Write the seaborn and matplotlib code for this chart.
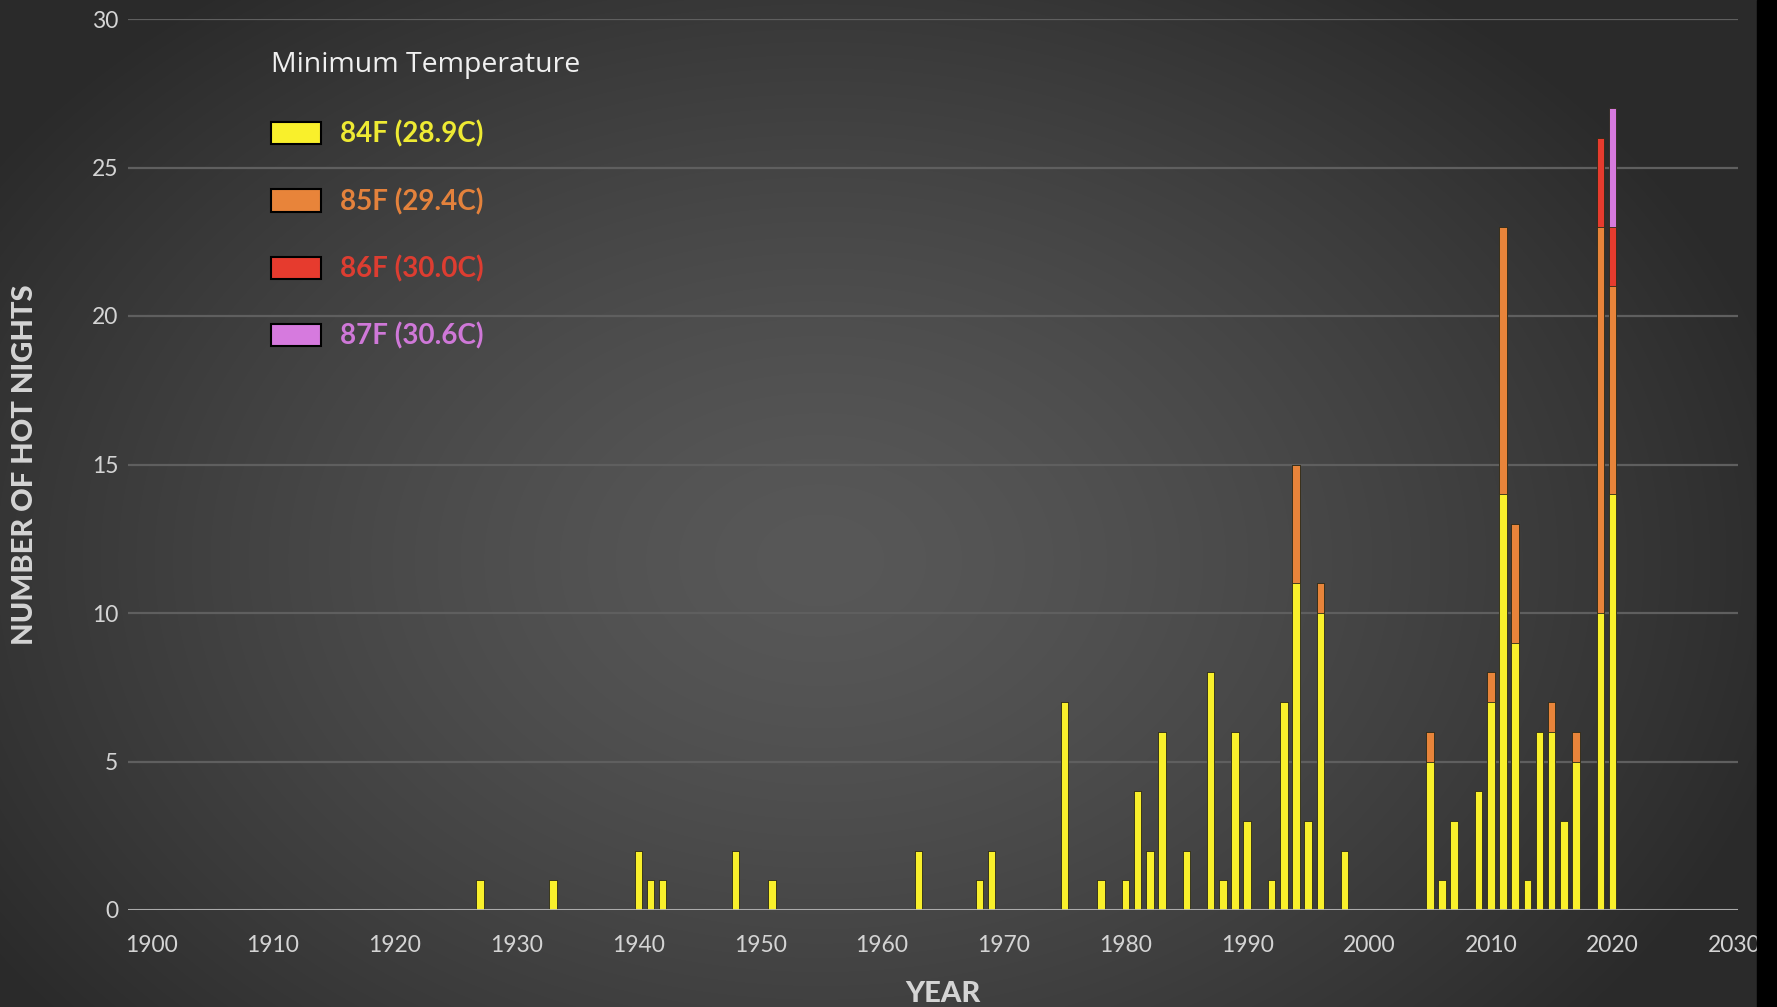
import numpy as np
import pandas as pd
import matplotlib
matplotlib.use("Agg")
import matplotlib.pyplot as plt
from matplotlib.patches import Patch, Rectangle
import seaborn as sns

# Hot nights per year, split by minimum-temperature threshold reached
years = [1927, 1933, 1940, 1941, 1942, 1948, 1951, 1963, 1968, 1969,
         1975, 1978, 1980, 1981, 1982, 1983, 1985, 1987, 1988, 1989,
         1990, 1992, 1993, 1994, 1995, 1996, 1998, 2005, 2006, 2007,
         2009, 2010, 2011, 2012, 2013, 2014, 2015, 2016, 2017, 2019, 2020]
nights_84f = [1, 1, 2, 1, 1, 2, 1, 2, 1, 2,
              7, 1, 1, 4, 2, 6, 2, 8, 1, 6,
              3, 1, 7, 11, 3, 10, 2, 5, 1, 3,
              4, 7, 14, 9, 1, 6, 6, 3, 5, 10, 14]
nights_85f = [0, 0, 0, 0, 0, 0, 0, 0, 0, 0,
              0, 0, 0, 0, 0, 0, 0, 0, 0, 0,
              0, 0, 0, 4, 0, 1, 0, 1, 0, 0,
              0, 1, 9, 4, 0, 0, 1, 0, 1, 13, 7]
nights_86f = [0] * 39 + [3, 2]
nights_87f = [0] * 40 + [4]

series_labels = ["84F (28.9C)", "85F (29.4C)", "86F (30.0C)", "87F (30.6C)"]
bar_colors = ["#f9f02b", "#e8843a", "#e63b2e", "#d67ade"]
text_colors = ["#eeea33", "#e4823c", "#dd3d31", "#cf78d8"]
y_ticks = [0, 5, 10, 15, 20, 25, 30]
x_ticks = list(range(1900, 2031, 10))

df = pd.DataFrame({"year": years, "t84": nights_84f, "t85": nights_85f,
                   "t86": nights_86f, "t87": nights_87f})
layers = ["t84", "t85", "t86", "t87"]
cum = df[layers].cumsum(axis=1)

W, H = 1777, 1007
fig = plt.figure(figsize=(W / 100, H / 100), dpi=100)

# dark vignette background
bg = fig.add_axes([0, 0, 1, 1], zorder=0)
xx, yy = np.meshgrid(np.arange(W), np.arange(H))
r = np.sqrt(((xx - 820) / 1000.0) ** 2 + ((yy - 560) / 720.0) ** 2)
r = np.clip(r, 0, 1)
center, edge = 0.345, 0.165
img = center - (center - edge) * r ** 1.4
bg.imshow(np.dstack([img, img, img]), aspect="auto", extent=[0, 1, 0, 1],
          origin="upper")
bg.set_axis_off()
fig.patches.append(Rectangle((1757 / W, 0), 1 - 1757 / W, 1,
                             transform=fig.transFigure, color="black",
                             zorder=5))

ax = fig.add_axes([128 / W, 1 - 910 / H, (1738 - 128) / W, (910 - 19) / H],
                  zorder=1)
ax.set_facecolor("none")

# stacked bars: draw cumulative totals from tallest to shortest
for col, color in reversed(list(zip(layers, bar_colors))):
    sns.barplot(x=df["year"], y=cum[col], native_scale=True, width=0.62,
                color=color, saturation=1, edgecolor="#2a2a1a",
                linewidth=0.6, ax=ax, zorder=3)

ax.set_xlim(1898.1, 2030.3)
ax.set_ylim(0, 30)
ax.set_xticks(x_ticks)
ax.set_yticks(y_ticks)
ax.set_xticklabels([str(t) for t in x_ticks])
ax.grid(axis="y", color="#5f5f5f", linewidth=1.6, zorder=0)
ax.grid(axis="x", visible=False)
ax.axhline(0, color="#b5b5b5", linewidth=2, zorder=4)
for s in ax.spines.values():
    s.set_visible(False)
ax.tick_params(axis="both", length=0, labelsize=16.5, labelcolor="#d4d4d4")
ax.tick_params(axis="x", pad=18)
ax.tick_params(axis="y", pad=7)
for lbl in ax.get_xticklabels() + ax.get_yticklabels():
    lbl.set_fontfamily("Lato")
ax.set_xlabel("YEAR", fontsize=21, fontweight="black", color="#d4d4d4",
              family="Lato")
ax.set_ylabel("NUMBER OF HOT NIGHTS", fontsize=21, fontweight="black",
              color="#d4d4d4", family="Lato")
ax.xaxis.set_label_coords(0.506, -0.094)
ax.yaxis.set_label_coords(-0.064, 0.5)
ax.xaxis.label.set_verticalalignment("center")
ax.yaxis.label.set_verticalalignment("center")

handles = [Patch(facecolor=c, edgecolor="black", linewidth=1.5)
           for c in bar_colors]
leg = ax.legend(handles, series_labels, title="Minimum Temperature",
                loc="upper left", bbox_to_anchor=(0.073, 0.992),
                frameon=False, prop={"family": "Lato", "weight": "bold",
                                     "size": 20},
                title_fontproperties={"family": "Open Sans", "size": 20.5},
                labelcolor=text_colors, handlelength=1.8, handleheight=0.85,
                handletextpad=0.7, labelspacing=1.44, alignment="left")
leg.get_title().set_color("#f0f0f0")
leg._legend_box.sep = 30

fig.savefig("out.png", dpi=100)
